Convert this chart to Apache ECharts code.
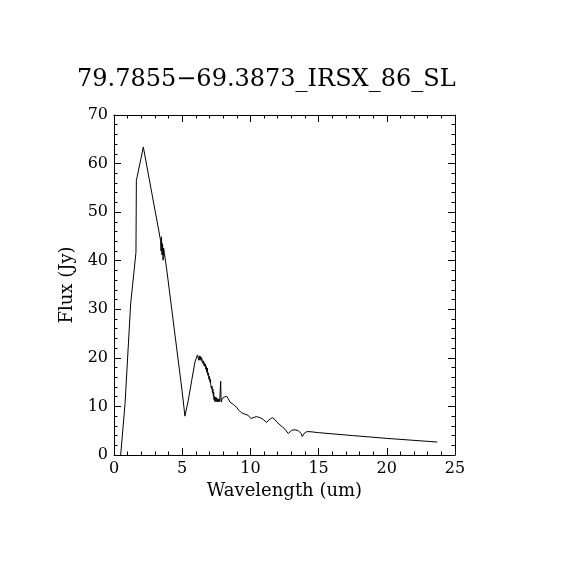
<!DOCTYPE html>
<html>
<head>
<meta charset="utf-8">
<script src="https://cdn.jsdelivr.net/npm/echarts@6/dist/echarts.min.js"></script>
<style>
html,body{margin:0;padding:0;background:#fff;}
#chart{width:570px;height:570px;}
</style>
</head>
<body>
<div id="chart"></div>
<script>
var chartTitle = '79.7855\u221269.3873_IRSX_86_SL';
var xTitle = 'Wavelength (um)';
var yTitle = 'Flux (Jy)';
var xTickLabels = ['0','5','10','15','20','25'];
var yTickLabels = ['0','10','20','30','40','50','60','70'];

var wavelength = [
 0.49,0.81,1.22,1.61,1.64,2.15,3.42,3.45,3.48,3.52,3.56,3.60,3.64,3.86,
 5.00,5.08,5.20,5.45,5.70,5.94,6.05,6.12,6.18,6.22,6.26,6.30,6.35,6.40,
 6.43,6.48,6.55,6.60,6.64,6.67,6.71,6.74,6.78,6.81,6.84,6.88,6.92,6.96,
 7.00,7.04,7.07,7.09,7.12,7.15,7.18,7.22,7.25,7.28,7.31,7.33,7.36,7.40,
 7.44,7.48,7.52,7.57,7.62,7.67,7.71,7.75,7.80,7.82,7.85,7.87,7.92,8.00,
 8.07,8.14,8.20,8.26,8.33,8.38,8.43,8.50,8.63,8.75,8.87,9.00,9.07,9.15,
 9.24,9.36,9.48,9.60,9.73,9.82,9.90,10.04,10.20,10.33,10.46,10.58,10.70,
 10.82,10.95,11.07,11.19,11.28,11.36,11.48,11.60,11.70,11.80,11.93,12.05,
 12.17,12.34,12.45,12.54,12.66,12.78,12.90,13.02,13.15,13.28,13.40,13.52,
 13.64,13.72,13.80,13.93,14.03,14.13,14.25,14.37,15.00,17.50,20.00,23.70
];
var flux = [
 0,10.6,31.1,41.7,56.5,63.4,44.1,42.0,44.9,41.2,43.5,40.1,42.6,38.3,
 13.0,12.7,8.0,11.3,15.4,19.2,19.6,20.6,20.2,19.5,20.4,19.6,20.3,19.4,
 20.0,18.9,19.4,18.4,19.0,18.2,18.7,17.6,18.2,17.0,17.9,16.4,16.9,15.6,
 16.2,15.0,15.6,14.5,14.9,13.6,14.2,12.8,13.6,12.2,12.9,11.4,12.1,11.0,
 11.9,11.0,11.8,10.9,11.6,11.0,11.5,11.0,11.4,15.2,11.5,10.9,11.6,11.4,
 11.9,11.8,11.5,12.1,12.0,11.6,11.3,10.9,10.6,10.4,10.3,9.8,9.6,9.2,
 8.9,8.7,8.6,8.4,8.4,8.2,8.1,7.5,7.7,7.9,7.9,7.8,7.7,
 7.5,7.3,7.0,6.7,7.0,7.2,7.5,7.7,7.4,7.3,6.8,6.8,
 6.2,5.8,5.6,5.3,4.9,4.4,4.8,5.1,5.3,5.2,5.1,5.0,
 4.8,4.4,3.8,4.4,4.6,4.8,4.9,4.8,4.6,4.0,3.42,2.67
];

var seriesData = wavelength.map(function(w, i){ return [w, flux[i]]; });

var font = 'DejaVu Serif';
var chart = echarts.init(document.getElementById('chart'), null, {renderer:'canvas'});

function xAx(pos, showLabel){
  return {
    type:'value', min:0, max:25, interval:5, position:pos,
    name: showLabel ? xTitle : '', nameLocation:'middle', nameGap:25,
    nameTextStyle:{color:'#000', fontFamily:font, fontSize:18},
    axisLine:{show:true, onZero:false, lineStyle:{color:'#000', width:1}},
    axisTick:{show:true, inside:true, length:7, lineStyle:{color:'#000'}},
    minorTick:{show:true, splitNumber:5, length:3.5, lineStyle:{color:'#000'}},
    splitLine:{show:false},
    axisLabel:{show:showLabel, color:'#000', fontFamily:font, fontSize:16, margin:6,
      formatter:function(v){ return xTickLabels[Math.round(v/5)]; }}
  };
}
function yAx(pos, showLabel){
  return {
    type:'value', min:0, max:70, interval:10, position:pos,
    name: showLabel ? yTitle : '', nameLocation:'middle', nameGap:36,
    nameTextStyle:{color:'#000', fontFamily:font, fontSize:18},
    axisLine:{show:true, onZero:false, lineStyle:{color:'#000', width:1}},
    axisTick:{show:true, inside:true, length:7, lineStyle:{color:'#000'}},
    minorTick:{show:true, splitNumber:5, length:3.5, lineStyle:{color:'#000'}},
    splitLine:{show:false},
    axisLabel:{show:showLabel, color:'#000', fontFamily:font, fontSize:16, margin:6,
      formatter:function(v){ return yTickLabels[Math.round(v/10)]; }}
  };
}

chart.setOption({
  backgroundColor:'#fff',
  animation:false,
  title:{text:chartTitle, left:77, top:68, padding:0,
    textStyle:{color:'#000', fontFamily:font, fontSize:24, fontWeight:'normal'}},
  grid:{left:114, right:115, top:115, bottom:115, containLabel:false},
  xAxis:[xAx('bottom', true), xAx('top', false)],
  yAxis:[yAx('left', true), yAx('right', false)],
  series:[{
    type:'line', xAxisIndex:0, yAxisIndex:0, data:seriesData,
    showSymbol:false, symbol:'none', smooth:false,
    lineStyle:{color:'#000', width:1}
  }]
});
</script>
</body>
</html>
